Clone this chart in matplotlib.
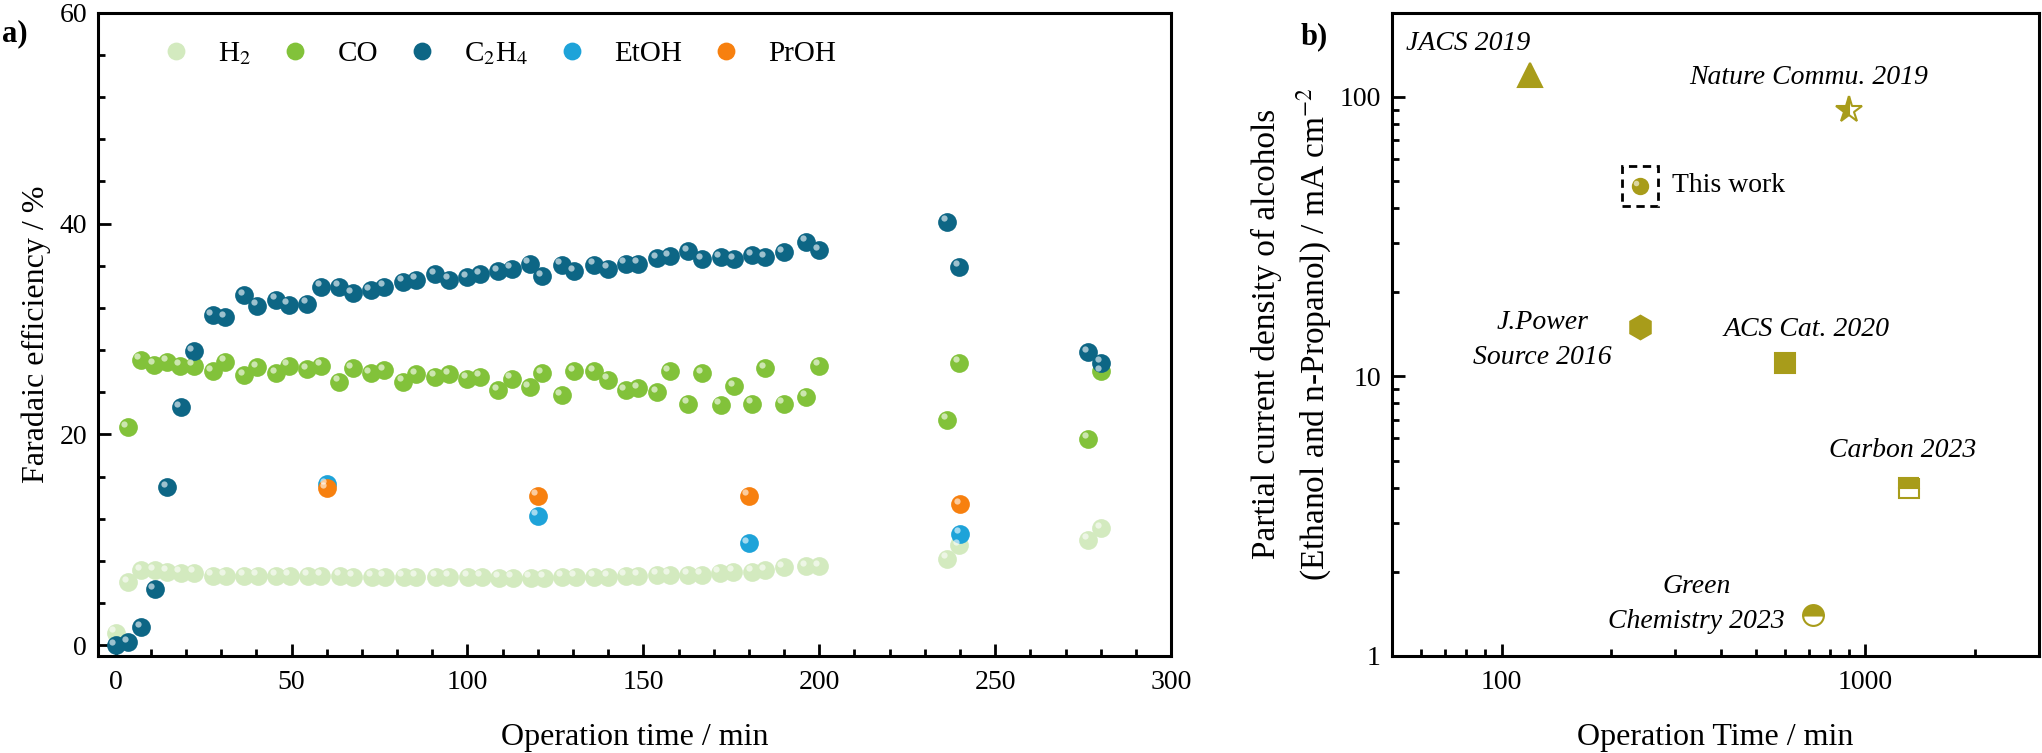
import matplotlib.pyplot as plt
import matplotlib.transforms as mtransforms
from matplotlib.patches import Rectangle
from matplotlib.ticker import MultipleLocator, LogLocator, NullFormatter, FixedLocator, FixedFormatter

plt.rcParams["font.family"] = ["Liberation Serif", "DejaVu Serif"]
plt.rcParams["mathtext.fontset"] = "stix"

# ---------------------------------------------------------------------------
# Panel a) data: Faradaic efficiency vs operation time
# ---------------------------------------------------------------------------
t_h2 = [0, 3.6, 7.3, 11.1, 14.7, 18.5, 22.3, 27.6, 31.3, 36.5, 40.4, 45.6, 49.5,
        54.8, 58.4, 63.8, 67.6, 72.9, 76.5, 81.9, 85.5, 91.2, 94.8, 100.2, 104.0,
        109.1, 112.9, 118.0, 121.9, 127.0, 130.8, 136.1, 140.0, 145.0, 148.6,
        153.9, 157.5, 162.8, 166.6, 171.7, 175.5, 181.0, 184.7, 189.9, 196.3,
        200.0, 236.4, 239.8, 276.5, 280.2]
fe_h2 = [1.2, 6.0, 7.1, 7.1, 7.0, 6.9, 6.9, 6.6, 6.6, 6.6, 6.6, 6.6, 6.6,
         6.6, 6.6, 6.6, 6.5, 6.5, 6.5, 6.5, 6.5, 6.5, 6.5, 6.5, 6.5,
         6.4, 6.4, 6.4, 6.4, 6.5, 6.5, 6.5, 6.5, 6.6, 6.6,
         6.7, 6.7, 6.7, 6.7, 6.9, 7.0, 7.0, 7.1, 7.4, 7.5,
         7.5, 8.2, 9.5, 10.0, 11.1]

t_co = [3.4, 7.2, 11.0, 14.6, 18.4, 22.2, 27.6, 31.1, 36.5, 40.3, 45.6, 49.2,
        54.5, 58.4, 63.6, 67.4, 72.5, 76.3, 81.7, 85.5, 90.9, 94.8, 99.9, 103.7,
        108.8, 112.6, 117.7, 121.3, 126.8, 130.4, 136.1, 140.0, 145.0, 148.6,
        153.9, 157.5, 162.8, 166.7, 172.0, 175.9, 181.0, 184.7, 189.9, 196.3,
        200.0, 236.4, 239.8, 276.5, 280.2]
fe_co = [20.7, 27.1, 26.6, 26.9, 26.5, 26.5, 26.0, 26.9, 25.6, 26.4, 25.8, 26.5,
         26.2, 26.5, 25.0, 26.3, 25.8, 26.1, 25.0, 25.7, 25.5, 25.7, 25.3, 25.5,
         24.2, 25.3, 24.5, 25.8, 23.7, 26.0, 26.0, 25.2, 24.2, 24.4,
         24.0, 26.0, 22.9, 25.8, 22.8, 24.6, 22.9, 26.3, 22.9, 23.6,
         26.5, 21.4, 26.8, 19.6, 26.0]

t_c2h4 = [0, 3.6, 7.3, 11.1, 14.7, 18.5, 22.2, 27.6, 31.1, 36.5, 40.3, 45.6, 49.2,
          54.5, 58.4, 63.6, 67.4, 72.5, 76.3, 81.7, 85.5, 90.9, 94.8, 99.9, 103.7,
          108.8, 112.6, 117.7, 121.3, 126.8, 130.4, 136.1, 140.0, 145.0, 148.6,
          153.9, 157.5, 162.8, 166.7, 172.0, 175.9, 181.0, 184.7, 189.9, 196.3,
          200.0, 236.4, 239.8, 276.5, 280.2]
fe_c2h4 = [0.0, 0.3, 1.7, 5.3, 15.0, 22.6, 27.9, 31.3, 31.1, 33.2, 32.2, 32.8, 32.3,
           32.4, 34.0, 34.0, 33.4, 33.7, 34.0, 34.5, 34.7, 35.2, 34.7, 34.9, 35.2,
           35.5, 35.7, 36.2, 35.0, 36.1, 35.5, 36.1, 35.7, 36.2, 36.2,
           36.7, 36.9, 37.4, 36.6, 36.8, 36.6, 37.0, 36.8, 37.3, 38.3,
           37.5, 40.2, 35.9, 27.8, 26.8]

t_alc = [60, 120, 180, 240]
fe_etoh = [15.3, 12.3, 9.7, 10.6]
fe_proh = [14.9, 14.2, 14.2, 13.4]

series_a = [
    ("H$_2$", t_h2, fe_h2, "#d3eabf"),
    ("CO", t_co, fe_co, "#82c23a"),
    ("C$_2$H$_4$", t_c2h4, fe_c2h4, "#0d6685"),
    ("EtOH", t_alc, fe_etoh, "#1ea3d9"),
    ("PrOH", t_alc, fe_proh, "#f7800f"),
]

# ---------------------------------------------------------------------------
# Panel b) data: literature comparison
# ---------------------------------------------------------------------------
refs = ["JACS 2019", "Nature Commu. 2019", "This work", "J.Power\nSource 2016",
        "ACS Cat. 2020", "Carbon 2023", "Green\nChemistry 2023"]
op_time = [120, 900, 240, 240, 600, 1320, 720]
j_alc = [120, 90, 48, 15, 11.2, 4.0, 1.4]
ref_markers = ["^", "*", "o", "h", "s", "s", "o"]
ref_sizes = [17, 20, 11, 17, 14, 14, 15]
ref_fill = ["full", "left", "full", "full", "full", "top", "top"]
# label anchor in axes fraction (x, y, ha, style)
ref_label_pos = [(0.022, 0.952, "left", "italic"), (0.459, 0.900, "left", "italic"),
                 (0.433, 0.731, "left", "normal"), (0.233, 0.491, "center", "italic"),
                 (0.513, 0.507, "left", "italic"), (0.675, 0.320, "left", "italic"),
                 (0.471, 0.081, "center", "italic")]
olive = "#a89c1a"

fig = plt.figure(figsize=(20.42, 7.53), dpi=100)
ax1 = fig.add_axes([0.048, 0.129, 0.5255, 0.854])
ax2 = fig.add_axes([0.6817, 0.129, 0.3168, 0.854])

hl = mtransforms.ScaledTranslation(-2.5 / 72, 2.5 / 72, fig.dpi_scale_trans)


def style_axes(ax):
    for sp in ax.spines.values():
        sp.set_linewidth(2.2)
    ax.tick_params(which="both", direction="in", top=False, right=False,
                   labelsize=20, width=2)
    ax.tick_params(which="major", length=9)
    ax.tick_params(which="minor", length=5)
    ax.tick_params(axis="x", pad=10)
    ax.tick_params(axis="y", pad=8)


# ---- panel a
for label, xs, ys, col in series_a:
    ax1.plot(xs, ys, "o", ms=13.5, color=col, mec="none", label=label, zorder=3)
    ax1.plot(xs, ys, "o", ms=4.5, color="white", alpha=0.6, mec="none",
             transform=ax1.transData + hl, zorder=4)

ax1.set_xlim(-5, 300)
ax1.set_ylim(-1, 60)
ax1.xaxis.set_major_locator(MultipleLocator(50))
ax1.xaxis.set_minor_locator(MultipleLocator(10))
ax1.yaxis.set_major_locator(MultipleLocator(20))
ax1.yaxis.set_minor_locator(MultipleLocator(4))
style_axes(ax1)
ax1.set_xlabel("Operation time / min", fontsize=23, labelpad=20)
ax1.set_ylabel("Faradaic efficiency / %", fontsize=23, labelpad=6)
ax1.legend(loc="center left", bbox_to_anchor=(0.059, 0.936), ncol=5, frameon=False,
           fontsize=21, handlelength=1.0, handletextpad=0.95, columnspacing=1.0,
           borderpad=0, borderaxespad=0, markerscale=0.95)
fig.text(0.001, 0.955, "a)", fontsize=22, fontweight="bold", va="center")

# ---- panel b
for name, x, y, m, s, fs, (lx, ly, ha, st) in zip(refs, op_time, j_alc, ref_markers,
                                                   ref_sizes, ref_fill, ref_label_pos):
    ax2.plot([x], [y], marker=m, ms=s, color=olive, mec=olive, mew=1.5,
             fillstyle=fs, markerfacecoloralt="white", ls="none", zorder=3)
    ax2.text(lx, ly, name, transform=ax2.transAxes, ha=ha, va="center",
             fontsize=20, style=st, linespacing=1.5)

# highlight + dashed frame for "This work"
i_tw = refs.index("This work")
ax2.plot([op_time[i_tw]], [j_alc[i_tw]], "o", ms=4, color="white", alpha=0.6,
         mec="none", transform=ax2.transData + hl, zorder=4)
bx = 10 ** 0.05
by = 10 ** 0.071
ax2.add_patch(Rectangle((op_time[i_tw] / bx, j_alc[i_tw] / by),
                        op_time[i_tw] * bx - op_time[i_tw] / bx,
                        j_alc[i_tw] * by - j_alc[i_tw] / by,
                        fill=False, ls=(0, (3, 2)), lw=2, ec="black", zorder=2))

ax2.set_xscale("log")
ax2.set_yscale("log")
ax2.set_xlim(50, 3000)
ax2.set_ylim(1, 200)
ax2.xaxis.set_major_locator(FixedLocator([100, 1000]))
ax2.xaxis.set_major_formatter(FixedFormatter(["100", "1000"]))
ax2.xaxis.set_minor_locator(LogLocator(base=10, subs=range(2, 10)))
ax2.xaxis.set_minor_formatter(NullFormatter())
ax2.yaxis.set_major_locator(FixedLocator([1, 10, 100]))
ax2.yaxis.set_major_formatter(FixedFormatter(["1", "10", "100"]))
ax2.yaxis.set_minor_locator(LogLocator(base=10, subs=range(2, 10)))
ax2.yaxis.set_minor_formatter(NullFormatter())
style_axes(ax2)
ax2.set_xlabel("Operation Time / min", fontsize=23, labelpad=20)
ax2.set_ylabel("Partial current density of alcohols\n(Ethanol and n-Propanol) / mA cm$^{-2}$",
               fontsize=24, labelpad=4, linespacing=1.45)
fig.text(0.637, 0.951, "b)", fontsize=22, fontweight="bold", va="center")

fig.savefig("out.png", dpi=100)
